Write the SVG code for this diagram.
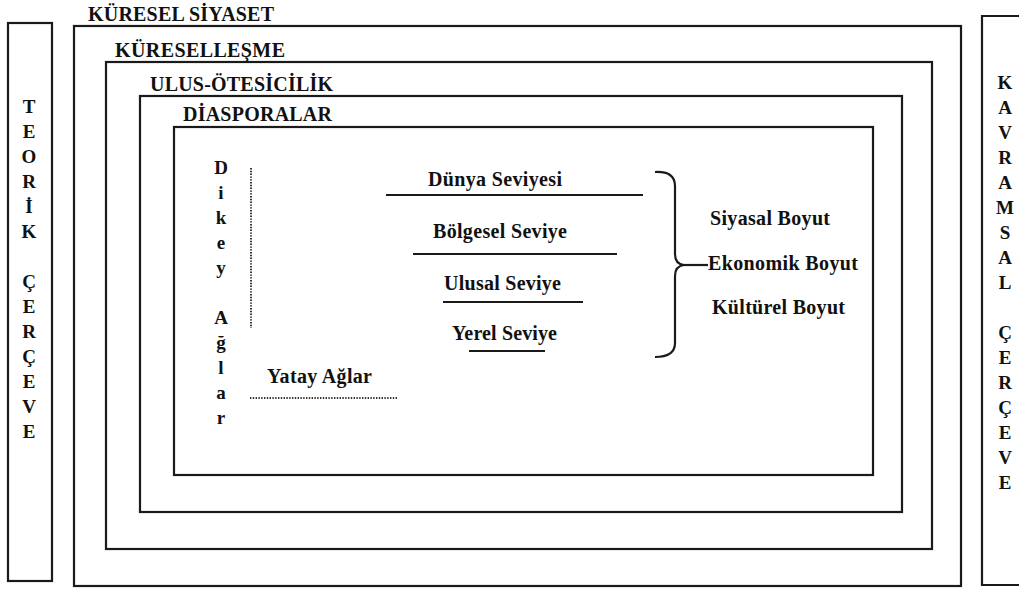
<svg xmlns="http://www.w3.org/2000/svg" width="1019" height="592" viewBox="0 0 1019 592">
<style>
.t{font-family:"Liberation Serif","Times New Roman",serif;font-weight:700;font-size:20px;fill:#111}
.v{font-family:"Liberation Serif","Times New Roman",serif;font-weight:700;font-size:19px;fill:#111;text-anchor:middle}
.box{fill:none;stroke:#1a1a1a;stroke-width:2.2}
.ln{stroke:#1a1a1a;stroke-width:2.2;fill:none}
.dot{stroke:#333;stroke-width:2;stroke-dasharray:1.4 1.4;fill:none}
</style>
<rect width="1019" height="592" fill="#fff"/>
<g id="teorik-cerceve">
<rect class="box" x="8" y="23" width="44" height="558"/>
<text class="v" x="29"><tspan x="29" y="113">T</tspan><tspan x="29" y="138">E</tspan><tspan x="29" y="163">O</tspan><tspan x="29" y="188">R</tspan><tspan x="29" y="213">İ</tspan><tspan x="29" y="238">K</tspan><tspan x="29" y="288">Ç</tspan><tspan x="29" y="313">E</tspan><tspan x="29" y="338">R</tspan><tspan x="29" y="363">Ç</tspan><tspan x="29" y="388">E</tspan><tspan x="29" y="413">V</tspan><tspan x="29" y="438">E</tspan></text>
</g>
<g id="kavramsal-cerceve">
<path class="box" d="M1025 16 H982 V585 H1025"/>
<text class="v" x="1005"><tspan x="1005" y="89">K</tspan><tspan x="1005" y="114">A</tspan><tspan x="1005" y="139">V</tspan><tspan x="1005" y="164">R</tspan><tspan x="1005" y="189">A</tspan><tspan x="1005" y="214">M</tspan><tspan x="1005" y="239">S</tspan><tspan x="1005" y="264">A</tspan><tspan x="1005" y="289">L</tspan><tspan x="1005" y="339">Ç</tspan><tspan x="1005" y="364">E</tspan><tspan x="1005" y="389">R</tspan><tspan x="1005" y="414">Ç</tspan><tspan x="1005" y="439">E</tspan><tspan x="1005" y="464">V</tspan><tspan x="1005" y="489">E</tspan></text>
</g>
<g id="kuresel-siyaset">
<rect class="box" x="74" y="26" width="887" height="560"/>
<text class="t" x="88" y="21" textLength="186">KÜRESEL SİYASET</text>
</g>
<g id="kuresellesme">
<rect class="box" x="106" y="62" width="826" height="487"/>
<text class="t" x="115" y="57" textLength="170">KÜRESELLEŞME</text>
</g>
<g id="ulus-otesicilik">
<rect class="box" x="140" y="96" width="762" height="416"/>
<text class="t" x="150" y="91" textLength="183">ULUS-ÖTESİCİLİK</text>
</g>
<g id="diasporalar">
<rect class="box" x="174" y="127" width="699" height="348"/>
<text class="t" x="183" y="121" textLength="149">DİASPORALAR</text>
</g>
<g id="dikey-aglar">
<text class="v" x="221"><tspan x="221" y="174">D</tspan><tspan x="221" y="199">i</tspan><tspan x="221" y="224">k</tspan><tspan x="221" y="249">e</tspan><tspan x="221" y="274">y</tspan><tspan x="221" y="324">A</tspan><tspan x="221" y="349">ğ</tspan><tspan x="221" y="374">l</tspan><tspan x="221" y="399">a</tspan><tspan x="221" y="424">r</tspan></text>
</g>
<g id="yatay-aglar">
<text class="t" x="267" y="383" textLength="105">Yatay Ağlar</text>
</g>
<g id="seviyeler">
<text class="t" x="428" y="186" textLength="134">Dünya Seviyesi</text>
<text class="t" x="433" y="238" textLength="134">Bölgesel Seviye</text>
<text class="t" x="444" y="290" textLength="117">Ulusal Seviye</text>
<text class="t" x="452" y="340" textLength="105">Yerel Seviye</text>
</g>
<g id="boyutlar">
<text class="t" x="710" y="225" textLength="120">Siyasal Boyut</text>
<text class="t" x="708" y="270" textLength="150">Ekonomik Boyut</text>
<text class="t" x="712" y="314" textLength="133">Kültürel Boyut</text>
</g>
<g id="connectors">
<line class="dot" x1="251" y1="168" x2="251" y2="328"/>
<line class="dot" x1="250" y1="398" x2="398" y2="398"/>
<line class="ln" x1="386" y1="195" x2="643" y2="195"/>
<line class="ln" x1="413" y1="254" x2="617" y2="254"/>
<line class="ln" x1="443" y1="302" x2="583" y2="302"/>
<line class="ln" x1="469" y1="351" x2="545" y2="351"/>
<path class="ln" d="M655 172 Q675 171 675 186 L675 254 Q675 264 684 265 Q675 266 675 276 L675 343 Q675 357 655 357"/>
<line class="ln" x1="684" y1="265" x2="708" y2="265"/>
</g>
</svg>
